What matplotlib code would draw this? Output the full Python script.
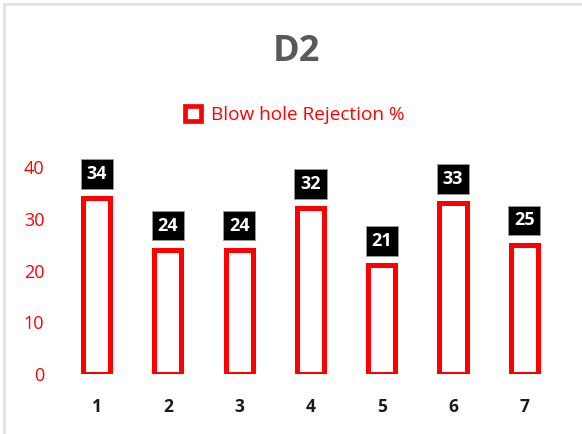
import matplotlib.pyplot as plt
from matplotlib.lines import Line2D
from matplotlib.patches import Patch

# chart data
categories = ["1", "2", "3", "4", "5", "6", "7"]
rejection = [34, 24, 24, 32, 21, 33, 25]
series_name = "Blow hole Rejection %"

plt.rcParams["font.family"] = ["Open Sans", "DejaVu Sans"]

fig = plt.figure(figsize=(5.82, 4.34), dpi=100)
ax = fig.add_axes([0.1048, 0.138, 0.8572, 0.477])

x = range(1, len(categories) + 1)
bars = ax.bar(x, rejection, width=0.38, facecolor="white", edgecolor="#ff0000",
              linewidth=3.6, label=series_name)

# value labels in black boxes above each bar
for xi, v in zip(x, rejection):
    ax.annotate(str(v), (xi, v), xytext=(0, 11), textcoords="offset points",
                ha="center", va="bottom", color="white", fontsize=13,
                fontweight="bold",
                bbox=dict(boxstyle="square,pad=0.32", fc="black", ec="#999999", lw=0.6))

ax.set_xlim(0.5, 7.5)
ax.set_ylim(0, 40)
ax.set_yticks([0, 10, 20, 30, 40])
ax.set_xticks(list(x))
ax.set_xticklabels(categories, fontweight="bold", fontsize=12.5, color="#1a1a1a")
ax.tick_params(axis="y", colors="#ff0000", labelsize=13, length=0, pad=12)
ax.tick_params(axis="x", length=0, pad=17)
for s in ax.spines.values():
    s.set_visible(False)

fig.text(0.51, 0.88, "D2", ha="center", va="center", fontsize=26,
         fontweight="bold", color="#595959")

handle = Patch(facecolor="white", edgecolor="#ff0000", linewidth=3.4)
fig.legend([handle], [series_name], loc="center", bbox_to_anchor=(0.507, 0.735),
           frameon=False, fontsize=13.7, labelcolor="#ff0000", handlelength=0.8,
           handleheight=0.8, handletextpad=0.55)

# light frame lines at top and left
fig.add_artist(Line2D([0.007, 1], [0.991, 0.991], color="#e0e0e0", lw=1.8,
                      transform=fig.transFigure))
fig.add_artist(Line2D([0.007, 0.007], [0, 0.991], color="#e0e0e0", lw=1.8,
                      transform=fig.transFigure))

fig.savefig("out.png", dpi=100)
